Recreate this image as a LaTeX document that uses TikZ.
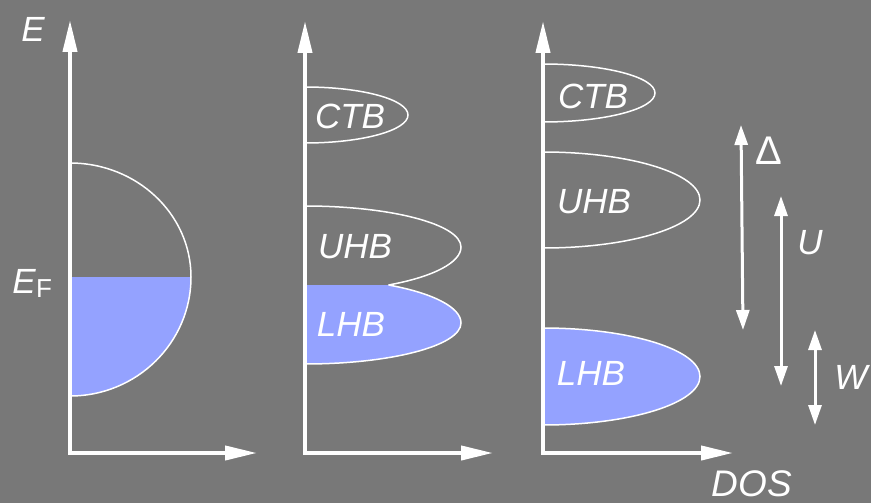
\documentclass[tikz,border=0pt]{standalone}
\usepackage{fontspec}
\setmainfont{Liberation Sans}
\usetikzlibrary{arrows.meta}
\definecolor{bggray}{RGB}{120,120,120}
\definecolor{bandblue}{RGB}{148,162,255}
\begin{document}
\begin{tikzpicture}[x=1pt,y=-1pt,
  axis/.style={white,line width=4pt,line join=miter,
    {Triangle[length=32pt,width=14pt]}-{Triangle[length=32pt,width=14pt]}},
  gap/.style={white,line width=3pt,
    {Triangle[length=20pt,width=13pt]}-{Triangle[length=20pt,width=13pt]}},
  band/.style={white,line width=1.5pt},
  filled/.style={fill=bandblue},
  lbl/.style={text=white,font=\fontsize{35}{35}\selectfont\itshape,inner sep=0pt},
  sym/.style={text=white,font=\fontsize{35}{35}\selectfont,inner sep=0pt}]

% background
\fill[bggray] (0,0) rectangle (871,503);
\useasboundingbox (0,0) rectangle (871,503);

% ---- metal: half-filled band ----
\coordinate (t1) at (70,20);
\coordinate (o1) at (70,453);
\coordinate (r1) at (257,453);
\fill[filled] (70,277) -- (191,277) arc[start angle=0,end angle=90,x radius=121,y radius=119] -- cycle;
\draw[band] (70,163) arc[start angle=-90,end angle=0,x radius=121,y radius=114]
  arc[start angle=0,end angle=90,x radius=121,y radius=119];
\draw[axis] (t1) -- (o1) -- (r1);
\node[lbl] (E) at (33,29) {E};
\node[lbl,anchor=base east] (EF) at (36,293) {E};
\node[sym,anchor=base west,font=\fontsize{26}{26}\selectfont] (F) at (EF.base east) [yshift=-4pt] {F};

% ---- Mott-Hubbard insulator ----
\coordinate (t2) at (305,21);
\coordinate (o2) at (305,453);
\coordinate (r2) at (493,453);
\draw[band] (305,87) arc[start angle=-90,end angle=90,x radius=103,y radius=28];
\fill[filled] (305,285) -- (388.6,285)
  arc[start angle=-57.6,end angle=0,x radius=156,y radius=45]
  arc[start angle=0,end angle=90,x radius=156,y radius=41] -- cycle;
\draw[band] (305,206) arc[start angle=-90,end angle=0,x radius=156,y radius=41]
  arc[start angle=0,end angle=57.6,x radius=156,y radius=45];
\draw[band] (388.6,285) arc[start angle=-57.6,end angle=0,x radius=156,y radius=45]
  arc[start angle=0,end angle=90,x radius=156,y radius=41];
\draw[axis] (t2) -- (o2) -- (r2);
\node[lbl] (ctb2) at (350,116) {CTB};
\node[lbl] (uhb2) at (355,247) {UHB};
\node[lbl] (lhb2) at (351,324) {LHB};

% ---- charge-transfer insulator ----
\coordinate (t3) at (543,21);
\coordinate (o3) at (543,453);
\coordinate (r3) at (733,453);
\draw[band] (543,64) arc[start angle=-90,end angle=90,x radius=112,y radius=29];
\draw[band] (543,152) arc[start angle=-90,end angle=90,x radius=157,y radius=48];
\filldraw[band,filled] (543,328) arc[start angle=-90,end angle=90,x radius=157,y radius=48.5];
\draw[axis] (t3) -- (o3) -- (r3);
\node[lbl] (ctb3) at (593,96) {CTB};
\node[lbl] (uhb3) at (594,202) {UHB};
\node[lbl] (lhb3) at (591,373) {LHB};

% ---- energy scales ----
\coordinate (dtop) at (741,125);
\coordinate (dbot) at (743,330);
\coordinate (utop) at (781,196);
\coordinate (ubot) at (781,386);
\coordinate (wtop) at (815,330);
\coordinate (wbot) at (815,425);
\draw[gap] (dtop) -- (dbot);
\draw[gap] (utop) -- (ubot);
\draw[gap] (wtop) -- (wbot);
\node[sym,font=\fontsize{40}{40}\selectfont] (Delta) at (769,151) {Δ};
\node[lbl] (U) at (810,243) {U};
\node[lbl] (W) at (851,377) {W};
\node[lbl,font=\fontsize{37}{37}\selectfont\itshape] (DOS) at (752,484) {DOS};
\end{tikzpicture}
\end{document}
